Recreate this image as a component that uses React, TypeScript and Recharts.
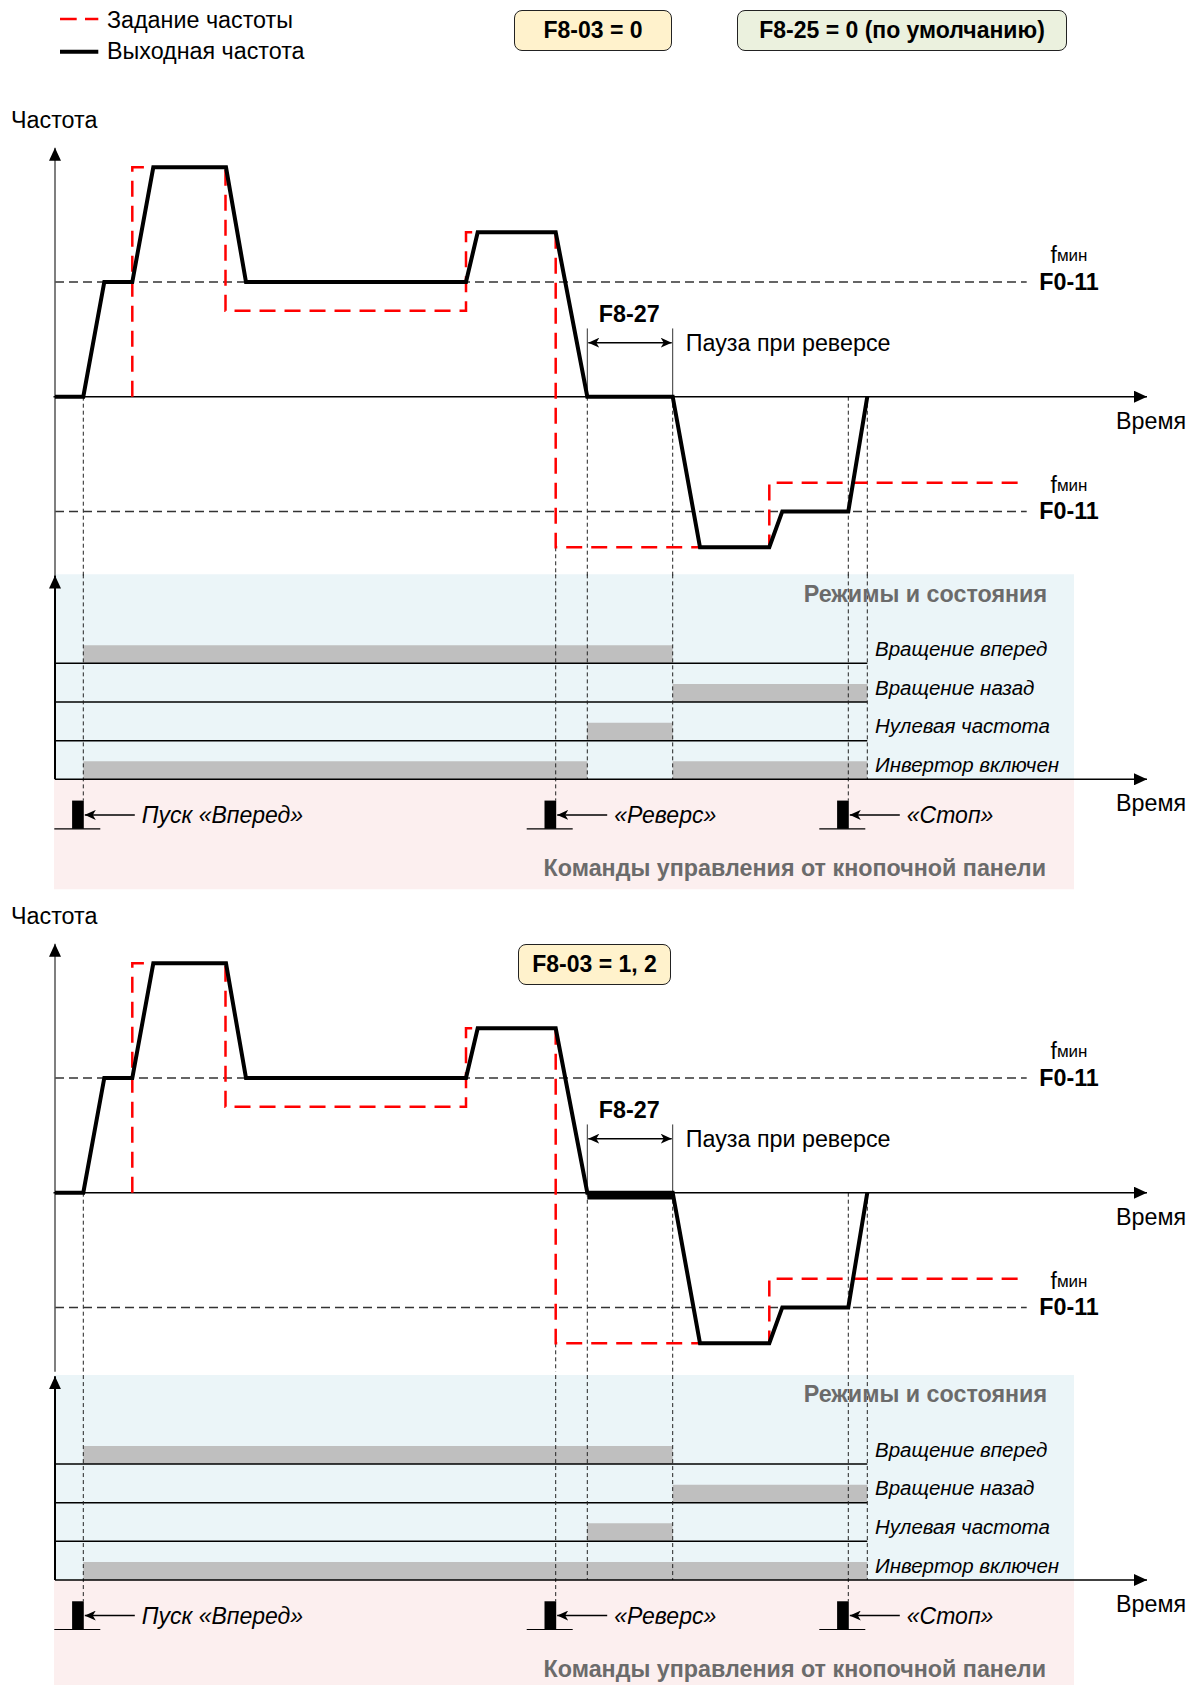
import React from 'react';
import { ComposedChart, Line, XAxis, YAxis, ReferenceLine, ReferenceArea, ReferenceDot } from 'recharts';

// time axis in s (10 px per s), frequency in Hz
const outputPts = [
  { t: 0, f: 0 }, { t: 2.83, f: 0 }, { t: 4.93, f: 10 }, { t: 7.73, f: 10 }, { t: 9.83, f: 20 },
  { t: 17.1, f: 20 }, { t: 19.1, f: 10 }, { t: 41.1, f: 10 }, { t: 42.27, f: 14.33 }, { t: 50.07, f: 14.33 },
  { t: 53.23, f: 0 }, { t: 61.77, f: 0 }, { t: 64.5, f: -13.13 }, { t: 71.43, f: -13.13 },
  { t: 72.73, f: -10 }, { t: 79.33, f: -10 }, { t: 81.23, f: 0 },
];
const setpointPts = [
  { t: 7.73, f: 0 }, { t: 7.73, f: 20 }, { t: 17.05, f: 20 }, { t: 17.05, f: 7.5 }, { t: 41.1, f: 7.5 },
  { t: 41.1, f: 14.33 }, { t: 50.07, f: 14.33 }, { t: 50.07, f: -13.13 }, { t: 71.43, f: -13.13 },
  { t: 71.43, f: -7.5 }, { t: 96.7, f: -7.5 },
];
const fMinLevel = 10;
const fMinLineEnd = 97.17;

// moments
const tZero = 53.23;
const tPauseEnd = 61.77;
const tStopped = 81.23;

const commands = [
  { t: 2.83, label: 'Пуск «Вперед»' },
  { t: 50.07, label: '«Реверс»' },
  { t: 79.33, label: '«Стоп»' },
];

// lanes from bottom (0) to top (3)
const laneNames = ['Инвертор включен', 'Нулевая частота', 'Вращение назад', 'Вращение вперед'];
const lanesTop = [[[2.83, 53.23], [61.77, 81.23]], [[53.23, 61.77]], [[61.77, 81.23]], [[2.83, 61.77]]];
const lanesBottom = [[[2.83, 81.23]], [[53.23, 61.77]], [[61.77, 81.23]], [[2.83, 61.77]]];

// dashed guides: time, top on frequency axis, bottom on state axis
const guides = [
  { t: 2.83, fTop: 0, sBottom: -0.55 },
  { t: 50.07, fTop: -13.13, sBottom: -0.55 },
  { t: 53.23, fTop: 0, sBottom: 0 },
  { t: 61.77, fTop: 0, sBottom: 0 },
  { t: 79.33, fTop: 0, sBottom: -0.55 },
  { t: 81.23, fTop: 0, sBottom: 0 },
];

const FONT = '"Liberation Sans", Arial, Helvetica, sans-serif';
const FS = 23.3;
const CHART_W = 1193;
const CHART_H = 760;
const PX_PER_HZ = 11.47;
const PX_PER_LANE = 38.67;
const T_DOMAIN = [-5.5, 113.8];
const F_TOP = 22.816;

type TxtOpts = { anchor?: 'start' | 'middle' | 'end'; size?: number; bold?: boolean; italic?: boolean; color?: string };

const txt = (s: string, o: TxtOpts = {}) => (p: any) => {
  const vb = p.viewBox || {};
  return (
    <text
      x={vb.x}
      y={vb.y}
      textAnchor={o.anchor ?? 'start'}
      dominantBaseline="central"
      fontFamily={FONT}
      fontSize={o.size ?? FS}
      fontWeight={o.bold ? 'bold' : 'normal'}
      fontStyle={o.italic ? 'italic' : 'normal'}
      fill={o.color ?? '#000'}
    >
      {s}
    </text>
  );
};

const fminLabel = (p: any) => {
  const vb = p.viewBox || {};
  return (
    <text x={vb.x} y={vb.y} textAnchor="middle" dominantBaseline="central" fontFamily={FONT} fill="#000">
      <tspan fontSize={23}>f</tspan>
      <tspan fontSize={17}>мин</tspan>
    </text>
  );
};

function note(key: string, axis: string, x: number, y: number, content: any) {
  return (
    <ReferenceDot key={key} yAxisId={axis} x={x} y={y} r={0} fill="none" stroke="none" label={{ content }} />
  );
}

function Panel({ top, sTop, lanes, braking }: { top: number; sTop: number; lanes: number[][][]; braking: boolean }) {
  const fDomain = [F_TOP - CHART_H / PX_PER_HZ, F_TOP];
  const sDomain = [sTop - CHART_H / PX_PER_LANE, sTop];
  return (
    <div style={{ position: 'absolute', left: 0, top }}>
      <ComposedChart width={CHART_W} height={CHART_H} margin={{ top: 0, right: 0, bottom: 0, left: 0 }}>
        <XAxis type="number" dataKey="t" domain={T_DOMAIN} hide allowDataOverflow />
        <YAxis yAxisId="f" type="number" domain={fDomain} hide allowDataOverflow />
        <YAxis yAxisId="s" type="number" domain={sDomain} hide allowDataOverflow />

        <ReferenceArea yAxisId="s" x1={-0.1} x2={101.9} y1={0} y2={5.3} fill="#ebf5f8" fillOpacity={1} stroke="none" />
        <ReferenceArea yAxisId="s" x1={-0.1} x2={101.9} y1={-2.84} y2={0} fill="#fcefef" fillOpacity={1} stroke="none" />

        {lanes.map((spans, i) =>
          spans.map(([a, b], j) => (
            <ReferenceArea key={`bar${i}-${j}`} yAxisId="s" x1={a} x2={b} y1={i} y2={i + 0.465} fill="#bfbfbf" fillOpacity={1} stroke="none" />
          ))
        )}
        {[1, 2, 3].map((k) => (
          <ReferenceLine key={`lane${k}`} yAxisId="s" segment={[{ x: 0, y: k }, { x: tStopped, y: k }]} stroke="#000" strokeWidth={1.5} />
        ))}

        {guides.map((g) => (
          <ReferenceLine key={`gf${g.t}`} yAxisId="f" segment={[{ x: g.t, y: g.fTop }, { x: g.t, y: -15.6 }]} stroke="#222" strokeWidth={1} strokeDasharray="4 3" />
        ))}
        {guides.map((g) => (
          <ReferenceLine key={`gs${g.t}`} yAxisId="s" segment={[{ x: g.t, y: 5.3 }, { x: g.t, y: g.sBottom }]} stroke="#222" strokeWidth={1} strokeDasharray="4 3" />
        ))}

        <ReferenceLine yAxisId="f" segment={[{ x: 0, y: fMinLevel }, { x: fMinLineEnd, y: fMinLevel }]} stroke="#333" strokeWidth={1.5} strokeDasharray="9 5" />
        <ReferenceLine yAxisId="f" segment={[{ x: 0, y: -fMinLevel }, { x: fMinLineEnd, y: -fMinLevel }]} stroke="#333" strokeWidth={1.5} strokeDasharray="9 5" />

        {/* axes */}
        <ReferenceLine yAxisId="f" segment={[{ x: 0, y: -15.6 }, { x: 0, y: 21.7 }]} stroke="#555" strokeWidth={1.5} markerEnd="url(#axArrow)" />
        <ReferenceLine yAxisId="f" segment={[{ x: -0.15, y: 0 }, { x: 109.2, y: 0 }]} stroke="#000" strokeWidth={1.5} markerEnd="url(#axArrow)" />
        <ReferenceLine yAxisId="s" segment={[{ x: 0, y: 0 }, { x: 0, y: 5.27 }]} stroke="#000" strokeWidth={2} markerEnd="url(#axArrow)" />
        <ReferenceLine yAxisId="s" segment={[{ x: 0, y: 0 }, { x: 109.2, y: 0 }]} stroke="#000" strokeWidth={1.5} markerEnd="url(#axArrow)" />

        {/* reverse pause */}
        <ReferenceLine yAxisId="f" segment={[{ x: tZero, y: 0 }, { x: tZero, y: 5.95 }]} stroke="#333" strokeWidth={1} />
        <ReferenceLine yAxisId="f" segment={[{ x: tPauseEnd, y: 0 }, { x: tPauseEnd, y: 5.95 }]} stroke="#333" strokeWidth={1} />
        <ReferenceLine yAxisId="f" segment={[{ x: tZero + 0.1, y: 4.71 }, { x: tPauseEnd - 0.1, y: 4.71 }]} stroke="#000" strokeWidth={1.5} markerStart="url(#smArrow)" markerEnd="url(#smArrow)" />

        <Line yAxisId="f" data={setpointPts} dataKey="f" type="linear" stroke="#ff0000" strokeWidth={2.5} strokeDasharray="16 9" dot={false} activeDot={false} isAnimationActive={false} />
        <Line yAxisId="f" data={outputPts} dataKey="f" type="linear" stroke="#000" strokeWidth={4} strokeLinejoin="miter" dot={false} activeDot={false} isAnimationActive={false} />
        {braking && (
          <ReferenceArea yAxisId="f" x1={tZero} x2={tPauseEnd} y1={-0.6} y2={0.1} fill="#000" fillOpacity={1} stroke="none" />
        )}

        {/* keypad commands */}
        {commands.map((c) => (
          <ReferenceArea key={`cr${c.t}`} yAxisId="s" x1={c.t - 1.12} x2={c.t + 0.05} y1={-1.28} y2={-0.55} fill="#000" fillOpacity={1} stroke="none" />
        ))}
        {commands.map((c) => (
          <ReferenceLine key={`cb${c.t}`} yAxisId="s" segment={[{ x: c.t - 2.9, y: -1.28 }, { x: c.t + 1.7, y: -1.28 }]} stroke="#000" strokeWidth={1.2} />
        ))}
        {commands.map((c) => (
          <ReferenceLine key={`ca${c.t}`} yAxisId="s" segment={[{ x: c.t + 5.15, y: -0.92 }, { x: c.t + 0.15, y: -0.92 }]} stroke="#000" strokeWidth={1.5} markerEnd="url(#smArrow)" />
        ))}
        {commands.map((c) => note(`ct${c.t}`, 's', c.t + 5.85, -0.93, txt(c.label, { italic: true, size: 23 })))}

        {laneNames.map((n, i) => note(`ln${i}`, 's', 82.0, i + 0.38, txt(n, { italic: true, size: 20.5 })))}
        {note('modes', 's', 99.2, 4.8, txt('Режимы и состояния', { anchor: 'end', bold: true, color: '#6b6b6b' }))}
        {note('cmds', 's', 99.1, -2.3, txt('Команды управления от кнопочной панели', { anchor: 'end', bold: true, color: '#6b6b6b' }))}

        {note('time1', 'f', 106.1, -2.15, txt('Время'))}
        {note('time2', 's', 106.1, -0.62, txt('Время'))}
        {note('fmin1', 'f', 101.4, 12.35, fminLabel)}
        {note('f011a', 'f', 101.4, 10, txt('F0-11', { anchor: 'middle', bold: true }))}
        {note('fmin2', 'f', 101.4, -7.7, fminLabel)}
        {note('f011b', 'f', 101.4, -10, txt('F0-11', { anchor: 'middle', bold: true }))}
        {note('f827', 'f', 57.43, 7.25, txt('F8-27', { anchor: 'middle', bold: true }))}
        {note('pause', 'f', 63.07, 4.71, txt('Пауза при реверсе'))}
      </ComposedChart>
    </div>
  );
}

const boxStyle = (bg: string): React.CSSProperties => ({
  position: 'absolute',
  boxSizing: 'border-box',
  height: 41,
  border: '1.5px solid #222',
  borderRadius: 8,
  background: bg,
  display: 'flex',
  alignItems: 'center',
  justifyContent: 'center',
  fontFamily: FONT,
  fontWeight: 'bold',
  fontSize: 23,
  color: '#000',
});

const textStyle = (left: number, top: number): React.CSSProperties => ({
  position: 'absolute',
  left,
  top,
  fontFamily: FONT,
  fontSize: FS,
  lineHeight: '26px',
  color: '#000',
  whiteSpace: 'nowrap',
});

export default function App() {
  return (
    <div style={{ position: 'absolute', left: 0, top: 0, width: 1193, height: 1685, overflow: 'hidden', background: '#fff' }}>
      <svg width={0} height={0} style={{ position: 'absolute' }}>
        <defs>
          <marker id="axArrow" viewBox="0 0 13 12" refX="13" refY="6" markerWidth="13" markerHeight="12" markerUnits="userSpaceOnUse" orient="auto">
            <path d="M0,0 L13,6 L0,12 z" fill="#000" />
          </marker>
          <marker id="smArrow" viewBox="0 0 11 10" refX="11" refY="5" markerWidth="11" markerHeight="10" markerUnits="userSpaceOnUse" orient="auto-start-reverse">
            <path d="M0,0 L11,5 L0,10 L3,5 z" fill="#000" />
          </marker>
        </defs>
      </svg>

      {/* legend */}
      <svg width={50} height={60} style={{ position: 'absolute', left: 55, top: 5 }}>
        <line x1={5} y1={14} x2={43.3} y2={14} stroke="#ff0000" strokeWidth={2.5} strokeDasharray="16.7 8.3" />
        <line x1={5} y1={46.7} x2={43.3} y2={46.7} stroke="#000" strokeWidth={4} />
      </svg>
      <div style={textStyle(107, 7)}>Задание частоты</div>
      <div style={textStyle(107, 38)}>Выходная частота</div>

      <div style={{ ...boxStyle('#fff2cc'), left: 514, top: 10, width: 158 }}>F8-03 = 0</div>
      <div style={{ ...boxStyle('#ebf1de'), left: 737, top: 10, width: 330 }}>F8-25 = 0 (по умолчанию)</div>

      <div style={textStyle(11, 107)}>Частота</div>
      <div style={textStyle(11, 903)}>Частота</div>

      <Panel top={135} sTop={16.662} lanes={lanesTop} braking={false} />
      <Panel top={931} sTop={16.783} lanes={lanesBottom} braking={true} />

      <div style={{ ...boxStyle('#fff2cc'), left: 518, top: 944, width: 153 }}>F8-03 = 1, 2</div>
    </div>
  );
}
